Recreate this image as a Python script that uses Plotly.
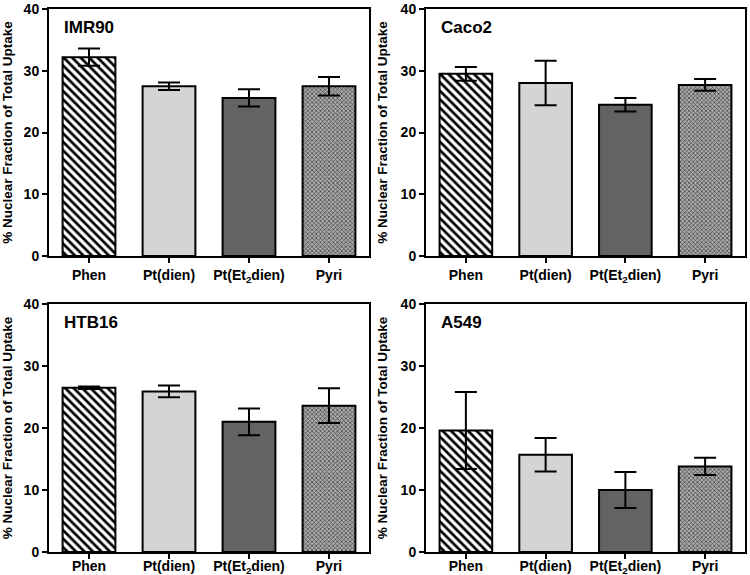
import plotly.graph_objects as go
from plotly.subplots import make_subplots

# data
categories = ["Phen", "Pt(dien)", "Pt(Et<sub>2</sub>dien)", "Pyri"]
panels = ["IMR90", "Caco2", "HTB16", "A549"]

imr90_mean = [32.2, 27.5, 25.6, 27.5]
imr90_err = [1.4, 0.6, 1.4, 1.5]
caco2_mean = [29.5, 28.0, 24.5, 27.7]
caco2_err = [1.1, 3.6, 1.1, 0.95]
htb16_mean = [26.5, 25.9, 21.0, 23.6]
htb16_err = [0.2, 0.95, 2.15, 2.8]
a549_mean = [19.6, 15.7, 10.0, 13.8]
a549_err = [6.2, 2.7, 2.9, 1.4]

means = [imr90_mean, caco2_mean, htb16_mean, a549_mean]
errs = [imr90_err, caco2_err, htb16_err, a549_err]

# bar styling: hatched, light grey, dark grey, fine checkered grey
bar_colors = ["white", "#d4d4d4", "#636363", "#ababab"]
pat_shapes = ["\\", "", "", "x"]
pat_fg = ["black", "#d4d4d4", "#636363", "#3c3c3c"]
pat_size = [6, 8, 8, 3]
pat_solid = [0.45, 0.3, 0.3, 0.4]

W, H = 750, 575


def px_x(v):
    return v / W


def px_y(v):
    return 1 - v / H


fig = make_subplots(rows=2, cols=2)

font_family = "Liberation Sans, Arial, sans-serif"

# panel domains from pixel positions in the reference
xdoms = [[px_x(49), px_x(369)], [px_x(426), px_x(745)]]
ydoms = [[px_y(256), px_y(9)], [px_y(552), px_y(304)]]

for idx, name in enumerate(panels):
    r = idx // 2 + 1
    c = idx % 2 + 1
    for k, cat in enumerate(categories):
        pat = dict(shape=pat_shapes[k], fgcolor=pat_fg[k], bgcolor=bar_colors[k],
                   size=pat_size[k], solidity=pat_solid[k], fillmode="replace")
        fig.add_trace(go.Bar(
            x=[cat], y=[means[idx][k]],
            width=0.66,
            marker=dict(color=bar_colors[k], line=dict(color="black", width=2),
                        pattern=pat if pat_shapes[k] else None),
            error_y=dict(type="data", array=[errs[idx][k]], color="black", thickness=2, width=11),
            showlegend=False,
        ), row=r, col=c)

    fig.update_xaxes(domain=xdoms[c - 1], row=r, col=c,
                     categoryorder="array", categoryarray=categories,
                     showline=True, linecolor="black", linewidth=2, mirror=True,
                     ticks="outside", ticklen=5, tickwidth=2, tickcolor="black",
                     ticklabelstandoff=(0 if r == 1 else -5),
                     tickfont=dict(family=font_family, size=14, color="black", weight="bold"),
                     range=[-0.5, 3.5], showgrid=False, automargin=False)
    fig.update_yaxes(domain=ydoms[r - 1], row=r, col=c,
                     range=[0, 40], dtick=10,
                     showline=True, linecolor="black", linewidth=2, mirror=True,
                     ticks="outside", ticklen=5, tickwidth=2, tickcolor="black",
                     tickfont=dict(family=font_family, size=14, color="black", weight="bold"),
                     title=dict(text="% Nuclear Fraction of Total Uptake", standoff=10,
                                font=dict(family=font_family, size=13.5, color="black", weight="bold")),
                     showgrid=False, zeroline=False, automargin=False)

    xref = "x" if idx == 0 else "x%d" % (idx + 1)
    yref = "y" if idx == 0 else "y%d" % (idx + 1)
    fig.add_annotation(text="<b>%s</b>" % name, xref=xref + " domain", yref=yref + " domain",
                       x=0.04, y=0.97, xanchor="left", yanchor="top", showarrow=False,
                       font=dict(family=font_family, size=17, color="black"))

fig.update_layout(
    width=W, height=H,
    margin=dict(l=0, r=0, t=0, b=0),
    plot_bgcolor="white", paper_bgcolor="white",
    barmode="overlay",
)

# drop the default page margin so the figure sits at the window corner
fig.write_html("out.html", config={"displayModeBar": False},
               post_script="document.body.style.margin='0';")
